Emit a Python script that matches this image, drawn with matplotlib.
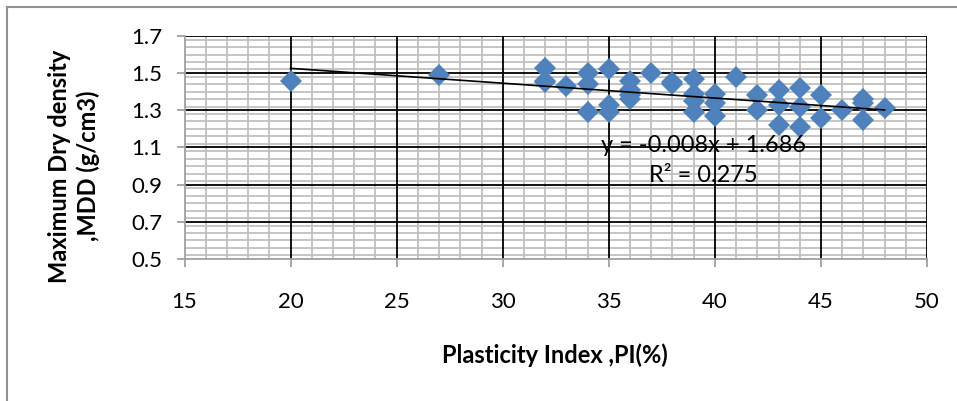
import matplotlib
matplotlib.use("Agg")
import matplotlib.pyplot as plt
from matplotlib.ticker import MultipleLocator
from matplotlib.lines import Line2D
import numpy as np

plt.rcParams['font.family'] = ['Lato', 'DejaVu Sans']

pi_values = [20, 27,
             32, 32, 32, 33, 34, 34, 34,
             35, 35, 35, 36, 36, 36, 36, 37,
             38, 38, 39, 39, 39, 39, 40, 40, 40, 41,
             42, 42, 43, 43, 43, 44, 44, 44,
             45, 45, 46, 47, 47, 47, 48]
mdd_values = [1.46, 1.49,
              1.53, 1.46, 1.45, 1.43, 1.50, 1.44, 1.29,
              1.52, 1.33, 1.29, 1.46, 1.41, 1.38, 1.36, 1.50,
              1.45, 1.44, 1.47, 1.39, 1.35, 1.29, 1.39, 1.34, 1.27, 1.48,
              1.38, 1.30, 1.41, 1.33, 1.22, 1.42, 1.32, 1.21,
              1.38, 1.26, 1.30, 1.36, 1.34, 1.25, 1.31]
trend_slope = -0.008
trend_intercept = 1.686
equation_text = "y = -0.008x + 1.686"
r2_text = "R² = 0.275"
x_ticks = [15, 20, 25, 30, 35, 40, 45, 50]
y_ticks = [0.5, 0.7, 0.9, 1.1, 1.3, 1.5, 1.7]

W, H = 957, 401
fig = plt.figure(figsize=(W / 100, H / 100), dpi=100)
fig.patch.set_facecolor('white')

# chart border (top and left visible)
fig.add_artist(Line2D([7.5 / W, 7.5 / W], [0, 1 - 6.5 / H], color='#909090', lw=1.5, transform=fig.transFigure))
fig.add_artist(Line2D([7.5 / W, 1], [1 - 6.5 / H, 1 - 6.5 / H], color='#909090', lw=1.5, transform=fig.transFigure))

ax = fig.add_axes([184.5 / W, 1 - 259 / H, (927 - 184.5) / W, (259 - 36) / H])
ax.set_xlim(15, 50)
ax.set_ylim(0.5, 1.7)
ax.xaxis.set_minor_locator(MultipleLocator(1))
ax.yaxis.set_minor_locator(MultipleLocator(0.04))
ax.set_xticks(x_ticks)
ax.set_yticks(y_ticks)
ax.set_yticklabels([f"{v:.1f}" for v in y_ticks])

ax.grid(which='minor', color='#c0c0c0', lw=1.3)
ax.set_axisbelow(True)
for xv in x_ticks[1:]:
    ax.axvline(xv, color='black', lw=1.3, zorder=1)
for yv in y_ticks[1:]:
    ax.axhline(yv, color='black', lw=1.3, zorder=1)

for s in ['top', 'right']:
    ax.spines[s].set_visible(False)
for s in ['left', 'bottom']:
    ax.spines[s].set_color('#a0a0a0')
    ax.spines[s].set_linewidth(1.3)
    ax.spines[s].set_zorder(3)

ax.tick_params(axis='both', which='minor', length=0)
ax.tick_params(axis='x', which='major', direction='out', length=6, width=1.3, color='#a0a0a0', labelsize=16, pad=18)
ax.tick_params(axis='y', which='major', direction='out', length=6, width=1.3, color='#a0a0a0', labelsize=16, pad=10)

ax.plot(pi_values, mdd_values, linestyle='none', marker='D', markersize=11,
        color='#4f81bd', markeredgewidth=0, zorder=4)

xt = np.array([min(pi_values), max(pi_values)])
ax.plot(xt, trend_slope * xt + trend_intercept, color='black', lw=1.2, zorder=5)

ax.text(39.45, 1.11, equation_text, fontsize=17, ha='center', va='center', zorder=6)
ax.text(39.45, 0.95, r2_text, fontsize=17, ha='center', va='center', zorder=6)

fig.text(555 / W, 1 - 355 / H, "Plasticity Index ,PI(%)", fontsize=17, fontweight='bold',
         ha='center', va='center')
fig.text(74 / W, 1 - 166 / H, "Maximum Dry density\n,MDD (g/cm3)", fontsize=17, fontweight='bold',
         ha='center', va='center', rotation=90, linespacing=1.3)

fig.savefig("out.png", dpi=100, facecolor='white')
